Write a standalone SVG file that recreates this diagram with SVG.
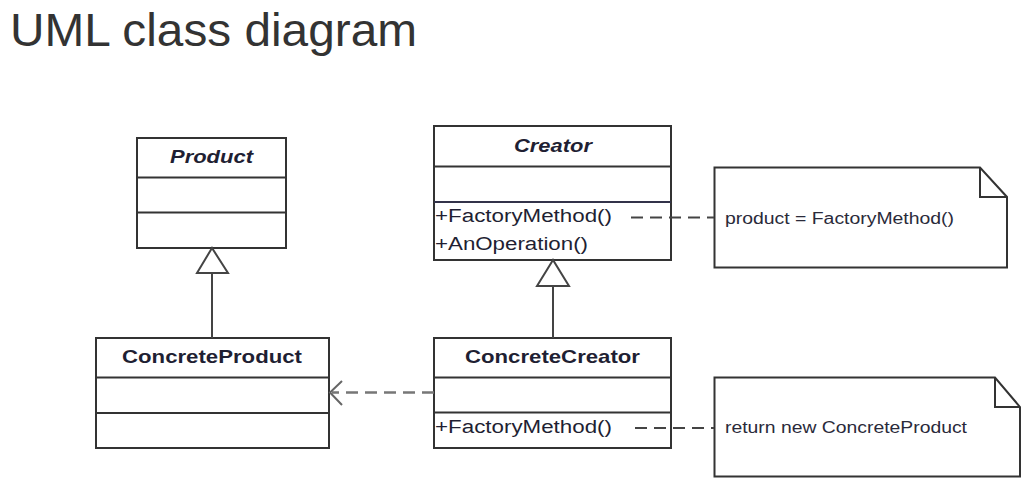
<svg xmlns="http://www.w3.org/2000/svg" width="1032" height="493" viewBox="0 0 1032 493">
<style>
.box{fill:#fff;stroke:#333;stroke-width:2}
.div{stroke:#333;stroke-width:2}
.ttl{font-family:"Liberation Sans",Arial,sans-serif;font-weight:bold;font-size:19px;fill:#1f1f33}
.it{font-style:italic}
.mem{font-family:"Liberation Sans",Arial,sans-serif;font-size:18px;fill:#1f1f33}
.note{font-family:"Liberation Sans",Arial,sans-serif;font-size:16px;fill:#2a2a3a}
.dash{fill:none;stroke:#444;stroke-width:2;stroke-dasharray:12 7}
.gen{fill:none;stroke:#444;stroke-width:2}
.tri{fill:#fff;stroke:#444;stroke-width:2}
</style>
<rect width="1032" height="493" fill="#fff"/>
<text x="10" y="46" font-family="'Liberation Sans',Arial,sans-serif" font-size="46" fill="#333" textLength="407" lengthAdjust="spacingAndGlyphs">UML class diagram</text>

<g id="Product">
  <rect class="box" x="137" y="138" width="149" height="110"/>
  <line class="div" x1="137" y1="177.5" x2="286" y2="177.5"/>
  <line class="div" x1="137" y1="212.5" x2="286" y2="212.5"/>
  <text class="ttl it" x="170" y="163" textLength="83" lengthAdjust="spacingAndGlyphs">Product</text>
</g>

<g id="ConcreteProduct">
  <rect class="box" x="96" y="338" width="233" height="110"/>
  <line class="div" x1="96" y1="377.5" x2="329" y2="377.5"/>
  <line class="div" x1="96" y1="413" x2="329" y2="413"/>
  <text class="ttl" x="122" y="363" textLength="180" lengthAdjust="spacingAndGlyphs">ConcreteProduct</text>
</g>

<g id="Creator">
  <rect class="box" x="434" y="126" width="237" height="134"/>
  <line class="div" x1="434" y1="166.5" x2="671" y2="166.5"/>
  <line class="div" x1="434" y1="202" x2="671" y2="202" style="stroke:#33334a"/>
  <text class="ttl it" x="514" y="152" textLength="78" lengthAdjust="spacingAndGlyphs">Creator</text>
  <text class="mem" x="435" y="222" textLength="177" lengthAdjust="spacingAndGlyphs">+FactoryMethod()</text>
  <text class="mem" x="435" y="249.5" textLength="153" lengthAdjust="spacingAndGlyphs">+AnOperation()</text>
</g>

<g id="ConcreteCreator">
  <rect class="box" x="434" y="338" width="237" height="110"/>
  <line class="div" x1="434" y1="377.5" x2="671" y2="377.5"/>
  <line class="div" x1="434" y1="412.5" x2="671" y2="412.5"/>
  <text class="ttl" x="465" y="363" textLength="175" lengthAdjust="spacingAndGlyphs">ConcreteCreator</text>
  <text class="mem" x="435" y="433" textLength="177" lengthAdjust="spacingAndGlyphs">+FactoryMethod()</text>
</g>

<g id="Note1">
  <path class="box" d="M714.5,167.5 H980 L1007,197 V267.5 H714.5 Z"/>
  <path d="M980,167.5 V197 H1007" fill="none" stroke="#333" stroke-width="2"/>
  <text class="note" x="725" y="224" textLength="229" lengthAdjust="spacingAndGlyphs">product = FactoryMethod()</text>
</g>

<g id="Note2">
  <path class="box" d="M714.5,377.5 H995 L1020,407 V476.5 H714.5 Z"/>
  <path d="M995,377.5 V407 H1020" fill="none" stroke="#333" stroke-width="2"/>
  <text class="note" x="725" y="433" textLength="242" lengthAdjust="spacingAndGlyphs">return new ConcreteProduct</text>
</g>

<g id="connectors">
  <line class="gen" x1="212" y1="273" x2="212" y2="338"/>
  <polygon class="tri" points="212,248 197,273 228,273"/>
  <line class="gen" x1="553" y1="286" x2="553" y2="338"/>
  <polygon class="tri" points="553,260 537,286 569,286"/>
  <line class="dash" x1="434" y1="392.5" x2="332" y2="392.5" style="stroke:#777;stroke-width:2.5"/>
  <polyline points="342,381 330,392.5 342,405" fill="none" stroke="#666" stroke-width="2"/>
  <line class="dash" x1="631" y1="217.5" x2="714" y2="217.5"/>
  <line class="dash" x1="635" y1="428" x2="714" y2="428"/>
</g>
</svg>
